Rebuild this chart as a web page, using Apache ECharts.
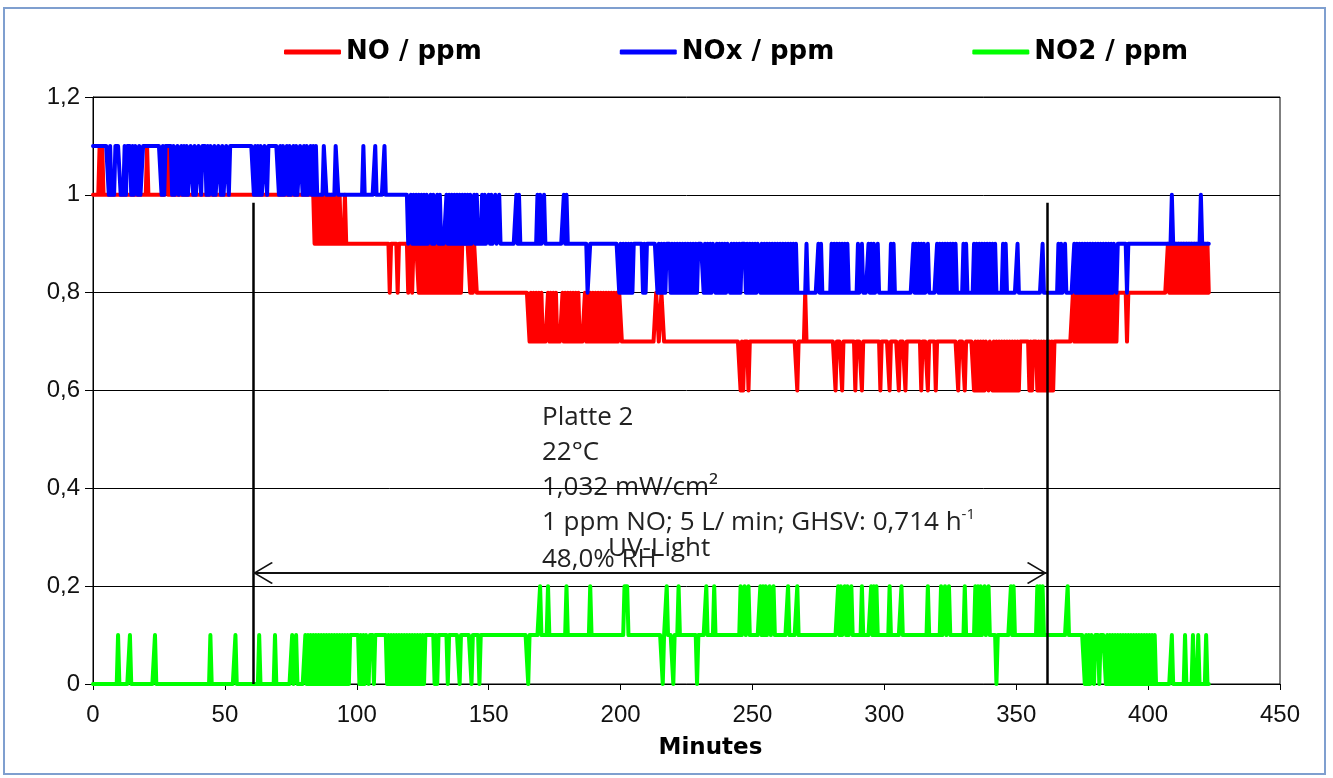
<!DOCTYPE html>
<html>
<head>
<meta charset="utf-8">
<script src="https://cdn.jsdelivr.net/npm/echarts@6/dist/echarts.min.js"></script>
<style>
html, body { margin: 0; padding: 0; background: #fff; }
#chart { width: 1333px; height: 778px; }
</style>
</head>
<body>
<div id="chart"></div>
<script>
// readings are in minutes; values step in 0.1 ppm
var endMinute = 423;
var xTicks = [0, 50, 100, 150, 200, 250, 300, 350, 400, 450];
var yTicks = [0, 0.2, 0.4, 0.6, 0.8, 1.0, 1.2];

// NO / ppm : base level [from minute, value], samples one step above / below the base
var noLevels = [[0, 1.0], [84, 0.9], [145.5, 0.8], [165, 0.7], [371.5, 0.8]];
var noUp = [2.5, 3.5, 20.5, 28, 29,
  84.5, 85.5, 86.5, 87.5, 88.5, 89.5, 90.5, 91.5, 92.5, 93.5, 95.5,
  165, 166, 167, 168, 169, 170, 172.5, 173.5, 174.5, 175.5, 178, 179, 180, 181, 182, 183, 184,
  186.5, 187.5, 188.5, 189.5, 190.5, 191.5, 192.5, 193.5, 194.5, 195.5, 196.5, 197.5, 198.5, 199.5, 200,
  213.5, 214, 215.5, 216, 270,
  407.5, 408.5, 409.5, 410.5, 411.5, 412.5, 413.5, 414.5, 415.5, 416.5, 417.5, 418.5, 419.5, 420.5, 421.5, 422.5];
var noDown = [112.5, 115.5, 119.5, 121,
  123.5, 124.5, 125.5, 126.5, 127.5, 128.5, 129.5, 130.5, 131.5, 132.5, 133.5, 134.5, 135.5, 136.5, 137.5, 138.5, 139.5,
  143, 144,
  245.5, 246.5, 248.5, 267, 281.5, 284, 289, 291.5, 298.5, 302, 305.5, 308, 314, 316.5, 319.5, 328, 330.5,
  334, 335, 336, 337, 338, 339.5, 341, 342, 343, 344, 345, 346, 347, 348, 349, 350, 351, 355, 356,
  358, 359, 360, 361, 362, 363, 364,
  372, 373, 374, 375, 376, 377, 378, 379, 380, 381, 382, 383, 384, 385, 386, 387, 388, 392];

// NOx / ppm
var noxLevels = [[0, 1.1], [85, 1.0], [119.5, 0.9], [267, 0.8], [387, 0.9]];
var noxUp = [87.5, 88, 92, 92.5, 102.5, 107, 110.5,
  120.5, 121.5, 122.5, 123.5, 124.5, 125.5, 126.5, 128, 129, 130.5, 131.5,
  134, 135, 136, 137, 138, 139, 140, 141, 142, 143, 144.5, 145.5, 147.5, 148.5, 150, 151, 152.5, 154,
  160.5, 161.5, 168.5, 169.5, 171, 178.5, 179.5,
  270.5, 275, 276, 280, 281, 282, 283, 284, 285, 286, 290, 291.5, 294, 295, 296, 297.5, 302.5, 303.5,
  311, 312, 313, 314, 315, 316.5, 320, 321, 322, 323, 324, 325, 326, 327, 330, 331,
  334, 335, 336, 337, 338, 339, 340, 341, 342, 345, 346, 350.5, 360, 366, 367, 368.5,
  372, 373, 374, 375, 376, 377, 378, 379, 380, 381, 382, 383, 384, 385, 386,
  409, 420];
var noxDown = [6, 7, 7.5, 8, 10.5, 11, 11.5, 12.5, 14.5, 15.5, 17, 18, 18.5, 26, 27,
  30, 31, 31.5, 32.5, 33, 34, 35, 36, 36.5, 38, 39, 39.5, 41, 43, 44, 45.5, 46.5, 47, 48.5, 49.5, 50, 51.5,
  61, 62, 63, 64, 64.5, 66, 70.5, 71.5, 72.5, 73, 74, 75, 75.5, 76.5, 77.5, 78, 79.5, 80.5, 81.5, 82, 83, 84,
  187.5, 188,
  199.5, 200.5, 201.5, 202.5, 203.5, 204.5, 208.5, 209.5, 214, 215, 216, 217,
  219, 220, 221, 222, 223, 224, 225, 226, 227, 228, 229, 231.5, 232.5, 233.5, 234.5,
  236, 237, 238, 239, 240, 241.5, 242.5, 243.5, 244.5, 245.5, 247.5, 248.5, 249.5, 250.5, 251.5,
  253, 254, 255, 256, 257, 258, 259, 260, 261, 262, 263, 264, 265, 266,
  388, 392];

// NO2 / ppm
var no2Levels = [[0, 0], [80.5, 0.1], [403.5, 0]];
var no2Up = [9.5, 14, 23.5, 44.5, 54, 63, 69, 75.5, 77,
  169.5, 172.5, 179.5, 188.5, 201.5, 202, 202.5, 217.5, 222, 232.5, 235.5,
  245.5, 247, 248.5, 253, 254, 255, 256.5, 258, 263.5, 267,
  282.5, 283.5, 285, 286, 287.5, 291.5, 295, 296, 297, 302, 306.5, 316.5, 321.5, 323, 324.5, 330.5,
  334.5, 335.5, 336.5, 338, 339.5, 348, 349, 358, 359, 360, 369.5,
  409, 414, 417, 419, 422];
var no2Down = [81, 82, 83, 84, 85, 86, 87, 88, 89, 90, 91, 92, 93, 94, 95, 96, 97,
  101, 102, 103, 104.5, 106.5,
  111.5, 112.5, 113.5, 114.5, 115.5, 116.5, 117.5, 118.5, 119.5, 120.5, 121.5, 122.5, 123.5, 124.5, 125.5,
  129.5, 130.5, 134.5, 139, 143.5, 146.5, 165, 216, 220, 229, 342.5,
  376, 377, 378, 379.5, 381.5, 384, 385, 386, 387, 388, 389, 390, 391, 392, 393, 394, 395, 396, 397,
  398, 399, 400, 401, 402, 403];

// UV light on/off (minutes) and the heights of the marker lines
var uvStart = 60.65;
var uvEnd = 361.6;
var markerTop = 0.984;
var arrowLevel = 0.227;

function buildSeries(levels, up, down) {
    var upSet = {}, downSet = {};
    up.forEach(function (t) { upSet[Math.round(t * 2)] = true; });
    down.forEach(function (t) { downSet[Math.round(t * 2)] = true; });
    var out = [];
    for (var k = 0; k <= endMinute * 2; k++) {
        var t = k / 2;
        var lvl = levels[0][1];
        levels.forEach(function (l) { if (t >= l[0]) lvl = l[1]; });
        var v = Math.round(lvl * 10);
        if (upSet[k]) v += 1;
        else if (downSet[k]) v -= 1;
        out.push([t, v / 10]);
    }
    return out;
}

// open arrow head, tip at the centre of its box so it ends on the marker line
var chevron = 'path://M0,-20 L0.01,-20 Z M0,0 L11,18.5 L10,20 L0,3 L-10,20 L-11,18.5 Z';
var labelFont = 'Liberation Sans';
var noteFont = '26px "Open Sans"';

var chart = echarts.init(document.getElementById('chart'));

var option = {
    animation: false,
    backgroundColor: '#fff',
    legend: {
        left: 279,
        top: 34,
        itemGap: 138,
        itemWidth: 57,
        itemHeight: 5,
        icon: 'roundRect',
        selectedMode: false,
        textStyle: { fontFamily: 'DejaVu Sans', fontWeight: 'bold', fontSize: 26, color: '#000' },
        data: ['NO / ppm', 'NOx / ppm', 'NO2 / ppm']
    },
    grid: {
        left: 93, right: 53, top: 97, bottom: 94,
        show: true, borderColor: '#000', borderWidth: 1
    },
    xAxis: {
        type: 'value',
        min: 0, max: 450, interval: 50,
        name: 'Minutes',
        nameLocation: 'middle',
        nameGap: 53,
        nameTextStyle: { fontFamily: 'DejaVu Sans', fontWeight: 'bold', fontSize: 23, color: '#000',
            padding: [0, 0, 0, 48] },
        axisLine: { lineStyle: { color: '#000', width: 1 } },
        axisTick: { length: 6, lineStyle: { color: '#000' } },
        axisLabel: { fontFamily: labelFont, fontSize: 24, color: '#111', margin: 19,
            formatter: function (v) { return xTicks.indexOf(v) >= 0 ? String(v) : ''; } },
        splitLine: { show: false }
    },
    yAxis: {
        type: 'value',
        min: 0, max: 1.2, interval: 0.2,
        axisLine: { show: true, lineStyle: { color: '#000', width: 1 } },
        axisTick: { show: true, length: 8, lineStyle: { color: '#000' } },
        axisLabel: { fontFamily: labelFont, fontSize: 24, color: '#111', margin: 13,
            formatter: function (v) {
                var r = Math.round(v * 10) / 10;
                return yTicks.indexOf(r) >= 0 ? String(r).replace('.', ',') : '';
            } },
        splitLine: { lineStyle: { color: '#000', width: 1 } }
    },
    series: [{
        name: 'NO / ppm',
        type: 'line',
        data: buildSeries(noLevels, noUp, noDown),
        showSymbol: false,
        color: '#ff0000',
        lineStyle: { color: '#ff0000', width: 4, cap: 'round', join: 'round' },
        markLine: {
            silent: true,
            symbol: ['none', 'none'],
            label: { show: false },
            lineStyle: { color: '#000', width: 2.5, type: 'solid' },
            data: [
                [{ coord: [uvStart, 0] }, { coord: [uvStart, markerTop] }],
                [{ coord: [uvEnd, 0] }, { coord: [uvEnd, markerTop] }]
            ]
        }
    }, {
        name: 'NOx / ppm',
        type: 'line',
        data: buildSeries(noxLevels, noxUp, noxDown),
        showSymbol: false,
        color: '#0000ff',
        lineStyle: { color: '#0000ff', width: 4, cap: 'round', join: 'round' }
    }, {
        name: 'NO2 / ppm',
        type: 'line',
        data: buildSeries(no2Levels, no2Up, no2Down),
        showSymbol: false,
        color: '#00ff00',
        lineStyle: { color: '#00ff00', width: 4, cap: 'round', join: 'round' },
        markLine: {
            silent: true,
            symbol: [chevron, chevron],
            symbolSize: [22, 40],
            label: { show: false },
            lineStyle: { color: '#111', width: 2, type: 'solid' },
            data: [
                [{ coord: [uvStart, arrowLevel] }, { coord: [uvEnd, arrowLevel] }]
            ]
        }
    }],
    graphic: [{
        type: 'rect',
        shape: { x: 4, y: 8, width: 1321, height: 766 },
        style: { fill: 'none', stroke: '#7f9fcf', lineWidth: 2 },
        silent: true
    }, {
        type: 'text', x: 542, y: 418,
        style: { text: 'Platte 2', font: noteFont, fill: '#222', verticalAlign: 'middle' }
    }, {
        type: 'text', x: 542, y: 453,
        style: { text: '22°C', font: noteFont, fill: '#222', verticalAlign: 'middle' }
    }, {
        type: 'text', x: 542, y: 488,
        style: { text: '1,032 mW/cm²', font: noteFont, fill: '#222', verticalAlign: 'middle' }
    }, {
        type: 'text', x: 542, y: 523,
        style: {
            text: '1 ppm NO; 5 L/ min; GHSV: 0,714 h{sup|-1}',
            font: noteFont, fill: '#222', verticalAlign: 'middle',
            rich: { sup: { fontSize: 15, fontFamily: 'Open Sans', fill: '#222', verticalAlign: 'top', lineHeight: 32 } }
        }
    }, {
        type: 'text', x: 542, y: 560,
        style: { text: '48,0% RH', font: noteFont, fill: '#222', verticalAlign: 'middle' }
    }, {
        type: 'text', x: 608, y: 549,
        style: { text: 'UV-Light', font: noteFont, fill: '#222', verticalAlign: 'middle' }
    }]
};

chart.setOption(option);
</script>
</body>
</html>
